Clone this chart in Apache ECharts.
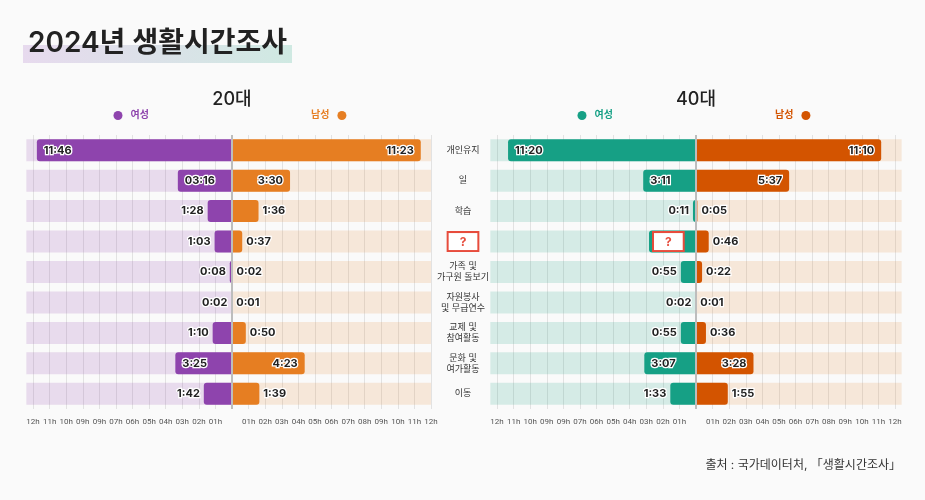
<!DOCTYPE html>
<html>
<head>
<meta charset="utf-8">
<script src="https://cdn.jsdelivr.net/npm/echarts@6/dist/echarts.min.js"></script>
<style>
  html, body { margin: 0; padding: 0; background: #fafafa; }
  #chart { width: 925px; height: 500px; }
</style>
</head>
<body>
<div id="chart"></div>
<script>
const FONT = 'Inter, "Noto Sans CJK KR", sans-serif';

const categories = ['개인유지', '일', '학습', '?', '가족 및\n가구원 돌보기', '자원봉사\n및 무급연수', '교제 및\n참여활동', '문화 및\n여가활동', '이동'];
const leftTicks = ['12h', '11h', '10h', '09h', '09h', '07h', '06h', '05h', '04h', '03h', '02h', '01h'];
const rightTicks = ['01h', '02h', '03h', '04h', '05h', '06h', '07h', '08h', '09h', '10h', '11h', '12h'];

// h:mm per row
const female20 = ['11:46', '03:16', '1:28', '1:03', '0:08', '0:02', '1:10', '3:25', '1:42'];
const male20 = ['11:23', '3:30', '1:36', '0:37', '0:02', '0:01', '0:50', '4:23', '1:39'];
const female40 = ['11:20', '3:11', '0:11', '2:50', '0:55', '0:02', '0:55', '3:07', '1:33'];
const male40 = ['11:10', '5:37', '0:05', '0:46', '0:22', '0:01', '0:36', '3:28', '1:55'];
const hiddenRow40 = 3; // 40대 여성 row shown as '?'

const panels = [
  { name: '20대', center: 232, female: female20, male: male20, hidden: -1,
    fColor: '#8e44ad', mColor: '#e67e22', fBg: 'rgba(142,68,173,0.17)', mBg: 'rgba(230,126,34,0.15)', reach: [12.4, 12] },
  { name: '40대', center: 696, female: female40, male: male40, hidden: hiddenRow40,
    fColor: '#16a085', mColor: '#d35400', fBg: 'rgba(22,160,133,0.16)', mBg: 'rgba(230,126,34,0.15)', reach: [12.4, 12.4] },
];

const toHours = s => {
  const [h, m] = s.split(':').map(Number);
  return h + m / 60;
};

const qStyle = {
  color: '#e74c3c', fontSize: 12, fontWeight: 'bold', fontFamily: FONT,
  backgroundColor: '#fff', borderColor: '#e74c3c', borderWidth: 2,
  padding: [3, 11, 2, 11], textBorderWidth: 0,
};

function barItem(text, sign, unknown) {
  const h = toHours(text);
  const inside = unknown || h >= 2.5;
  let position;
  if (sign < 0) position = inside ? 'insideLeft' : 'left';
  else position = inside ? 'insideRight' : 'right';
  return {
    value: sign * h,
    label: { position, distance: unknown ? 5 : inside ? 7 : 4, formatter: unknown ? '{q|?}' : text },
  };
}

const labelStyle = {
  show: true, fontSize: 11, fontWeight: 'bold', fontFamily: FONT, color: '#222',
  textBorderColor: '#fff', textBorderWidth: 2.5, rich: { q: qStyle },
};

const grids = [];
const xAxes = [];
const yAxes = [];
const series = [];
const legends = [];
const graphics = [
  { type: 'rect', shape: { x: 23, y: 45, width: 269, height: 18 }, z: 1,
    style: { fill: new echarts.graphic.LinearGradient(0, 0, 1, 0, [{ offset: 0, color: '#e7daee' }, { offset: 1, color: '#cfe9e2' }]) } },
  { type: 'text', x: 28, y: 44, z: 5,
    style: { text: '2024년 생활시간조사', font: `600 28px ${FONT}`, fill: '#222', textVerticalAlign: 'middle' } },
  { type: 'text', x: 901, y: 465,
    style: { text: '출처 : 국가데이터처, 「생활시간조사」', font: `12px ${FONT}`, fill: '#333', textAlign: 'right', textVerticalAlign: 'middle' } },
];

panels.forEach((p, i) => {
  grids.push({ left: p.center - 199, top: 135, width: 398, height: 274 });
  xAxes.push({
    type: 'value', gridIndex: i, min: -12, max: 12, interval: 1,
    axisLine: { show: false }, axisTick: { show: false },
    splitLine: { show: true, lineStyle: { color: '#e2e2e2', width: 1 } },
    axisLabel: {
      fontSize: 8, color: '#555', fontFamily: 'Roboto, sans-serif', margin: 9,
      formatter: v => (v < 0 ? leftTicks[v + 12] : v > 0 ? rightTicks[v - 1] : ''),
    },
  });
  yAxes.push({
    type: 'category', gridIndex: i, data: categories, inverse: true,
    axisLine: { show: false }, axisTick: { show: false }, splitLine: { show: false },
    axisLabel: i === 1 ? {
      show: true, margin: 34, align: 'center', fontSize: 9, lineHeight: 11, color: '#333', fontFamily: FONT,
      formatter: v => (v === '?' ? '{q|?}' : v), rich: { q: qStyle },
    } : { show: false },
  });

  const common = { type: 'bar', xAxisIndex: i, yAxisIndex: i, barWidth: 22, barGap: '-100%', emphasis: { disabled: true } };
  series.push({ ...common, name: p.name + ' 여성 bg', stack: 'bg' + i, silent: true, clip: false,
    itemStyle: { color: p.fBg }, data: categories.map(() => -p.reach[0]) });
  series.push({ ...common, name: p.name + ' 남성 bg', stack: 'bg' + i, silent: true, clip: false,
    itemStyle: { color: p.mBg }, data: categories.map(() => p.reach[1]) });
  series.push({ ...common, name: p.name + ' 여성', stack: 'd' + i, z: 3,
    itemStyle: { color: p.fColor, borderRadius: [3, 0, 0, 3] }, label: labelStyle,
    data: p.female.map((t, k) => barItem(t, -1, k === p.hidden)) });
  series.push({ ...common, name: p.name + ' 남성', stack: 'd' + i, z: 3,
    itemStyle: { color: p.mColor, borderRadius: [0, 3, 3, 0] }, label: labelStyle,
    data: p.male.map(t => barItem(t, 1, false)),
    markLine: { silent: true, symbol: 'none', label: { show: false }, animation: false,
      lineStyle: { color: '#bdbdbd', width: 2, type: 'solid' }, data: [{ xAxis: 0 }] } });

  legends.push({ data: [p.name + ' 여성'], left: p.center - 118.5, top: 110.5, padding: 0,
    icon: 'circle', itemWidth: 9, itemHeight: 9, selectedMode: false, formatter: () => '여성',
    textStyle: { color: p.fColor, fontSize: 10, fontWeight: 'bold', fontFamily: FONT, padding: [0, 0, 0, 3] } });
  legends.push({ data: [p.name + ' 남성'], left: p.center + 79, top: 110.5, padding: 0, align: 'right',
    icon: 'circle', itemWidth: 9, itemHeight: 9, selectedMode: false, formatter: () => '남성',
    textStyle: { color: p.mColor, fontSize: 10, fontWeight: 'bold', fontFamily: FONT, padding: [0, 3, 0, 0] } });

  graphics.push({ type: 'text', x: p.center, y: 100,
    style: { text: p.name, font: `500 18px ${FONT}`, fill: '#222', textAlign: 'center', textVerticalAlign: 'middle' } });
});

const chart = echarts.init(document.getElementById('chart'));
chart.setOption({
  backgroundColor: '#fafafa',
  animation: false,
  textStyle: { fontFamily: FONT },
  grid: grids,
  xAxis: xAxes,
  yAxis: yAxes,
  legend: legends,
  series,
  graphic: graphics,
});
</script>
</body>
</html>
